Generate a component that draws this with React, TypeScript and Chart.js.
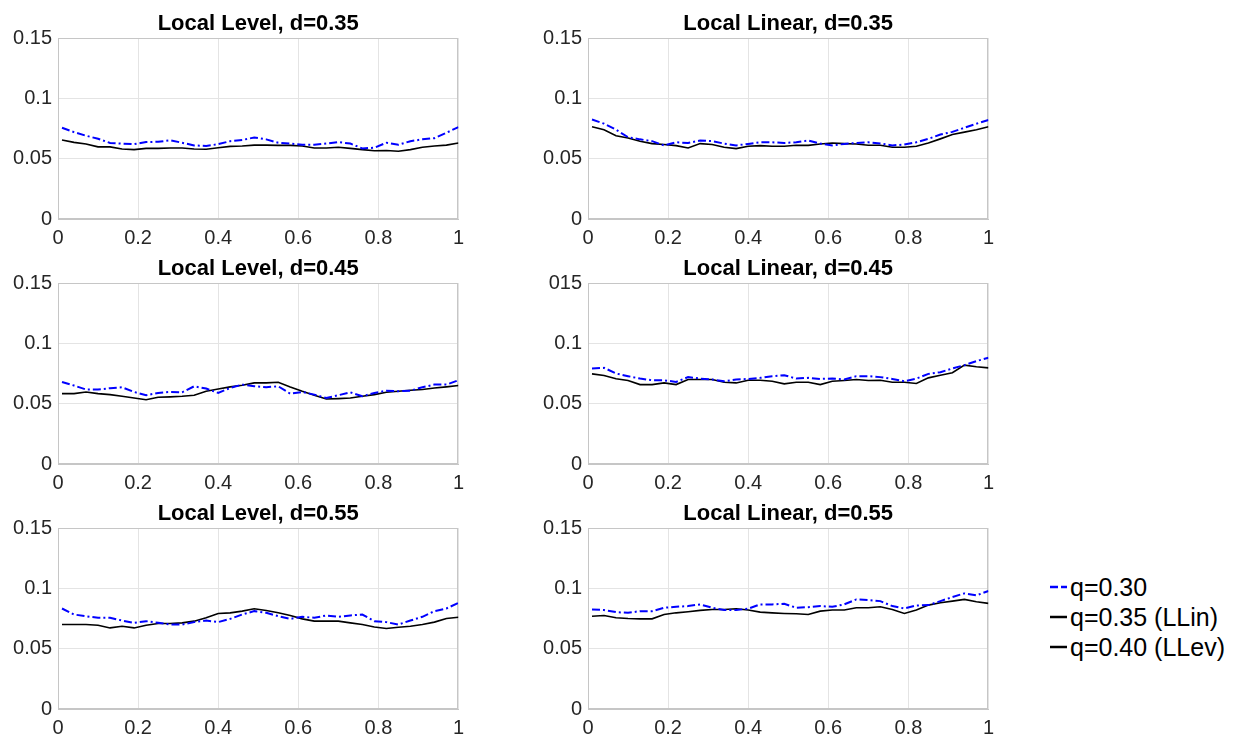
import React, { useEffect, useRef } from "react";
import { Chart, registerables } from "chart.js";

Chart.register(...registerables);

// ---------- data ----------
const xValues = [
  0.01, 0.04, 0.07, 0.1, 0.13, 0.16, 0.19, 0.22, 0.25, 0.28, 0.31, 0.34,
  0.37, 0.4, 0.43, 0.46, 0.49, 0.52, 0.55, 0.58, 0.61, 0.64, 0.67, 0.7,
  0.73, 0.76, 0.79, 0.82, 0.85, 0.88, 0.91, 0.94, 0.97, 1.0,
];

const xTickValues = [0, 0.2, 0.4, 0.6, 0.8, 1];
const xTickLabels = ["0", "0.2", "0.4", "0.6", "0.8", "1"];
const yTickValues = [0, 0.05, 0.1, 0.15];
const yTickLabels = ["0", "0.05", "0.1", "0.15"];
const yTickLabelsMidRight = ["0", "0.05", "0.1", "015"];

const seriesNames = ["q=0.30", "q=0.35 (LLin)", "q=0.40 (LLev)"];

const level035q30 = [0.0756,0.072,0.069,0.0665,0.063,0.0625,0.062,0.0638,0.064,0.0652,0.0632,0.061,0.0605,0.062,0.0645,0.0655,0.0675,0.066,0.0632,0.0625,0.0615,0.0615,0.0625,0.0638,0.0625,0.0585,0.059,0.0632,0.0615,0.0645,0.066,0.067,0.0715,0.0762];
const level035q40 = [0.0655,0.0635,0.0622,0.0598,0.0598,0.058,0.0575,0.0585,0.0585,0.0588,0.0588,0.058,0.0578,0.059,0.0602,0.0605,0.0612,0.0612,0.061,0.061,0.0605,0.0588,0.0588,0.0595,0.0585,0.0575,0.0565,0.0568,0.0562,0.0575,0.0595,0.0605,0.0612,0.063];

const linear035q30 = [0.0825,0.079,0.074,0.0678,0.066,0.0645,0.061,0.0636,0.063,0.065,0.0645,0.0625,0.061,0.0622,0.0636,0.0636,0.063,0.0636,0.065,0.0625,0.061,0.0622,0.063,0.0636,0.0625,0.061,0.0617,0.0636,0.0664,0.07,0.0722,0.0756,0.079,0.082];
const linear035q35 = [0.0764,0.074,0.069,0.0672,0.0645,0.0625,0.0617,0.0608,0.0589,0.0625,0.0617,0.0594,0.0583,0.0603,0.0608,0.0603,0.0603,0.0611,0.061,0.0622,0.063,0.0625,0.0622,0.0611,0.0611,0.0594,0.0594,0.0603,0.063,0.0664,0.07,0.072,0.074,0.0764];

const level045q30 = [0.068,0.065,0.0617,0.0617,0.0628,0.0636,0.0597,0.057,0.0589,0.0597,0.0594,0.0644,0.0625,0.0589,0.063,0.0658,0.0644,0.0636,0.0644,0.0583,0.0597,0.0575,0.0547,0.057,0.0594,0.0561,0.0589,0.0608,0.0603,0.0608,0.0636,0.0658,0.0658,0.0694];
const level045q40 = [0.0583,0.0583,0.0597,0.0583,0.0575,0.0561,0.0547,0.0533,0.0553,0.0556,0.0561,0.057,0.0603,0.0622,0.0639,0.0653,0.0672,0.0672,0.0678,0.0639,0.0603,0.057,0.0539,0.0542,0.0547,0.0561,0.0575,0.0594,0.0603,0.0611,0.0617,0.063,0.0639,0.065];

const linear045q30 = [0.0792,0.0797,0.075,0.0728,0.0708,0.0694,0.0694,0.068,0.072,0.0708,0.07,0.0686,0.07,0.0705,0.0714,0.0728,0.0736,0.0708,0.0714,0.0705,0.0708,0.07,0.0728,0.0728,0.072,0.0705,0.0686,0.0708,0.0747,0.0761,0.0792,0.0819,0.0853,0.088];
const linear045q35 = [0.0747,0.0733,0.0706,0.0692,0.0658,0.0658,0.0672,0.0658,0.07,0.07,0.07,0.0678,0.0672,0.0694,0.0694,0.0686,0.0664,0.0678,0.0678,0.0658,0.0686,0.0692,0.07,0.0692,0.0694,0.0678,0.0678,0.0667,0.0714,0.0736,0.0756,0.0819,0.0806,0.0797];

const level055q30 = [0.0833,0.0783,0.0769,0.0756,0.0756,0.0733,0.0714,0.0728,0.0714,0.07,0.07,0.072,0.0733,0.072,0.0747,0.0783,0.0811,0.0797,0.0769,0.0747,0.0764,0.0756,0.0775,0.0764,0.0775,0.0783,0.0728,0.072,0.07,0.0733,0.0764,0.0811,0.0833,0.088];
const level055q40 = [0.07,0.07,0.07,0.0694,0.0672,0.0686,0.0672,0.0694,0.0708,0.0708,0.0714,0.0728,0.0756,0.0792,0.0797,0.0811,0.0831,0.0817,0.0797,0.0775,0.0747,0.0728,0.0728,0.0728,0.0714,0.07,0.068,0.0667,0.0678,0.0686,0.07,0.072,0.075,0.0761];

const linear055q30 = [0.0825,0.082,0.0803,0.0797,0.0811,0.0811,0.0839,0.0847,0.0853,0.0867,0.0839,0.082,0.082,0.0831,0.0867,0.0867,0.0872,0.0839,0.0844,0.0853,0.0847,0.0867,0.0908,0.0903,0.0894,0.0853,0.0833,0.0858,0.0861,0.0894,0.0928,0.0958,0.0942,0.0978];
const linear055q35 = [0.0769,0.0775,0.0756,0.075,0.0747,0.0747,0.0783,0.0797,0.0806,0.0817,0.0825,0.0825,0.0831,0.082,0.0803,0.0797,0.0792,0.0789,0.0783,0.0811,0.082,0.082,0.0839,0.0839,0.0847,0.0825,0.0792,0.082,0.0861,0.0881,0.0894,0.0908,0.0889,0.0875];

// ---------- styling / layout ----------
const FONT = '"Liberation Sans", Arial, Helvetica, sans-serif';
const BLUE = "#0000ff";
const BLACK = "#000000";
const GRID = "#e4e4e4";
const BOX = "#c6c6c6";
const TICK_TEXT = "#262626";

const CANVAS_W = 471;
const CANVAS_H = 250;
const PLOT_TOP = 38;

type PanelProps = {
  title: string;
  blue: number[];
  black: number[];
  blackName: string;
  yLabels: string[];
  left: number;
  top: number;
};

const boxPlugin = {
  id: "boxPlugin",
  beforeDatasetsDraw(chart: any) {
    const { ctx, chartArea } = chart;
    ctx.save();
    ctx.strokeStyle = BOX;
    ctx.lineWidth = 1;
    const l = Math.round(chartArea.left) + 0.5;
    const t = Math.round(chartArea.top) + 0.5;
    const r = Math.round(chartArea.right) - 0.5;
    const b = Math.round(chartArea.bottom) - 0.5;
    ctx.strokeRect(l, t, r - l, b - t);
    ctx.restore();
  },
};

const panelTitlePlugin = {
  id: "panelTitle",
  afterDraw(chart: any, _args: any, opts: any) {
    const { ctx, chartArea } = chart;
    ctx.save();
    ctx.fillStyle = "#000000";
    ctx.font = `bold 22px ${FONT}`;
    ctx.textAlign = "center";
    ctx.textBaseline = "alphabetic";
    ctx.fillText(opts.text, (chartArea.left + chartArea.right) / 2, chartArea.top - 8);
    ctx.restore();
  },
};

function Panel({ title, blue, black, blackName, yLabels, left, top }: PanelProps) {
  const ref = useRef<HTMLCanvasElement | null>(null);

  useEffect(() => {
    if (!ref.current) return;
    const toPts = (arr: number[]) => xValues.map((x, i) => ({ x, y: arr[i] }));
    const chart = new Chart(ref.current, {
      type: "line",
      data: {
        datasets: [
          {
            label: seriesNames[0],
            data: toPts(blue),
            borderColor: BLUE,
            borderWidth: 2,
            borderDash: [8, 3, 2, 3],
            pointRadius: 0,
            tension: 0,
            fill: false,
          },
          {
            label: blackName,
            data: toPts(black),
            borderColor: BLACK,
            borderWidth: 1.6,
            pointRadius: 0,
            tension: 0,
            fill: false,
          },
        ],
      },
      options: {
        animation: false,
        responsive: false,
        devicePixelRatio: 1,
        layout: { padding: { left: 0, right: 10, top: PLOT_TOP, bottom: 0 } },
        plugins: {
          legend: { display: false },
          tooltip: { enabled: false },
          title: { display: false },
          panelTitle: { text: title },
        } as any,
        scales: {
          x: {
            type: "linear",
            min: 0,
            max: 1,
            afterBuildTicks: (scale: any) => {
              scale.ticks = xTickValues.map((v) => ({ value: v }));
            },
            afterFit: (scale: any) => {
              scale.height = 31;
            },
            ticks: {
              autoSkip: false,
              maxRotation: 0,
              padding: 7,
              color: TICK_TEXT,
              font: { family: FONT, size: 20 },
              callback: (_v: any, i: number) => xTickLabels[i],
            },
            grid: { color: GRID, drawTicks: false, lineWidth: 1 },
            border: { display: true, color: BOX },
          },
          y: {
            type: "linear",
            min: 0,
            max: 0.15,
            afterBuildTicks: (scale: any) => {
              scale.ticks = yTickValues.map((v) => ({ value: v }));
            },
            afterFit: (scale: any) => {
              scale.width = 58;
            },
            ticks: {
              autoSkip: false,
              padding: 6,
              color: TICK_TEXT,
              font: { family: FONT, size: 20 },
              callback: (_v: any, i: number) => yLabels[i],
            },
            grid: { color: GRID, drawTicks: false, lineWidth: 1 },
            border: { display: true, color: BOX },
          },
        },
      },
      plugins: [boxPlugin, panelTitlePlugin],
    });
    return () => chart.destroy();
  }, [title, blue, black, blackName, yLabels]);

  return (
    <canvas
      ref={ref}
      width={CANVAS_W}
      height={CANVAS_H}
      style={{ position: "absolute", left, top, width: CANVAS_W, height: CANVAS_H }}
    />
  );
}

function LegendRow({ name, color, dashed, centerY }: { name: string; color: string; dashed: boolean; centerY: number }) {
  return (
    <div style={{ position: "absolute", left: 1048, top: centerY - 15, height: 30, display: "flex", alignItems: "center" }}>
      <svg width={22} height={30} style={{ display: "block" }}>
        {dashed ? (
          <g stroke={color} strokeWidth={2.5}>
            <line x1={2} y1={15} x2={10} y2={15} />
            <line x1={13} y1={15} x2={19} y2={15} />
          </g>
        ) : (
          <line x1={2} y1={15} x2={19} y2={15} stroke={color} strokeWidth={2.5} />
        )}
      </svg>
      <span style={{ fontFamily: FONT, fontSize: 25, lineHeight: "30px", color: "#000", whiteSpace: "nowrap" }}>{name}</span>
    </div>
  );
}

export default function App() {
  return (
    <div style={{ position: "absolute", left: 0, top: 0, width: 1233, height: 737, background: "#ffffff", overflow: "hidden" }}>
      <Panel title="Local Level, d=0.35" blue={level035q30} black={level035q40} blackName={seriesNames[2]} yLabels={yTickLabels} left={0} top={0} />
      <Panel title="Local Linear, d=0.35" blue={linear035q30} black={linear035q35} blackName={seriesNames[1]} yLabels={yTickLabels} left={530} top={0} />
      <Panel title="Local Level, d=0.45" blue={level045q30} black={level045q40} blackName={seriesNames[2]} yLabels={yTickLabels} left={0} top={245} />
      <Panel title="Local Linear, d=0.45" blue={linear045q30} black={linear045q35} blackName={seriesNames[1]} yLabels={yTickLabelsMidRight} left={530} top={245} />
      <Panel title="Local Level, d=0.55" blue={level055q30} black={level055q40} blackName={seriesNames[2]} yLabels={yTickLabels} left={0} top={490} />
      <Panel title="Local Linear, d=0.55" blue={linear055q30} black={linear055q35} blackName={seriesNames[1]} yLabels={yTickLabels} left={530} top={490} />
      <LegendRow name={seriesNames[0]} color={BLUE} dashed={true} centerY={587} />
      <LegendRow name={seriesNames[1]} color={BLACK} dashed={false} centerY={617} />
      <LegendRow name={seriesNames[2]} color={BLACK} dashed={false} centerY={647} />
    </div>
  );
}
